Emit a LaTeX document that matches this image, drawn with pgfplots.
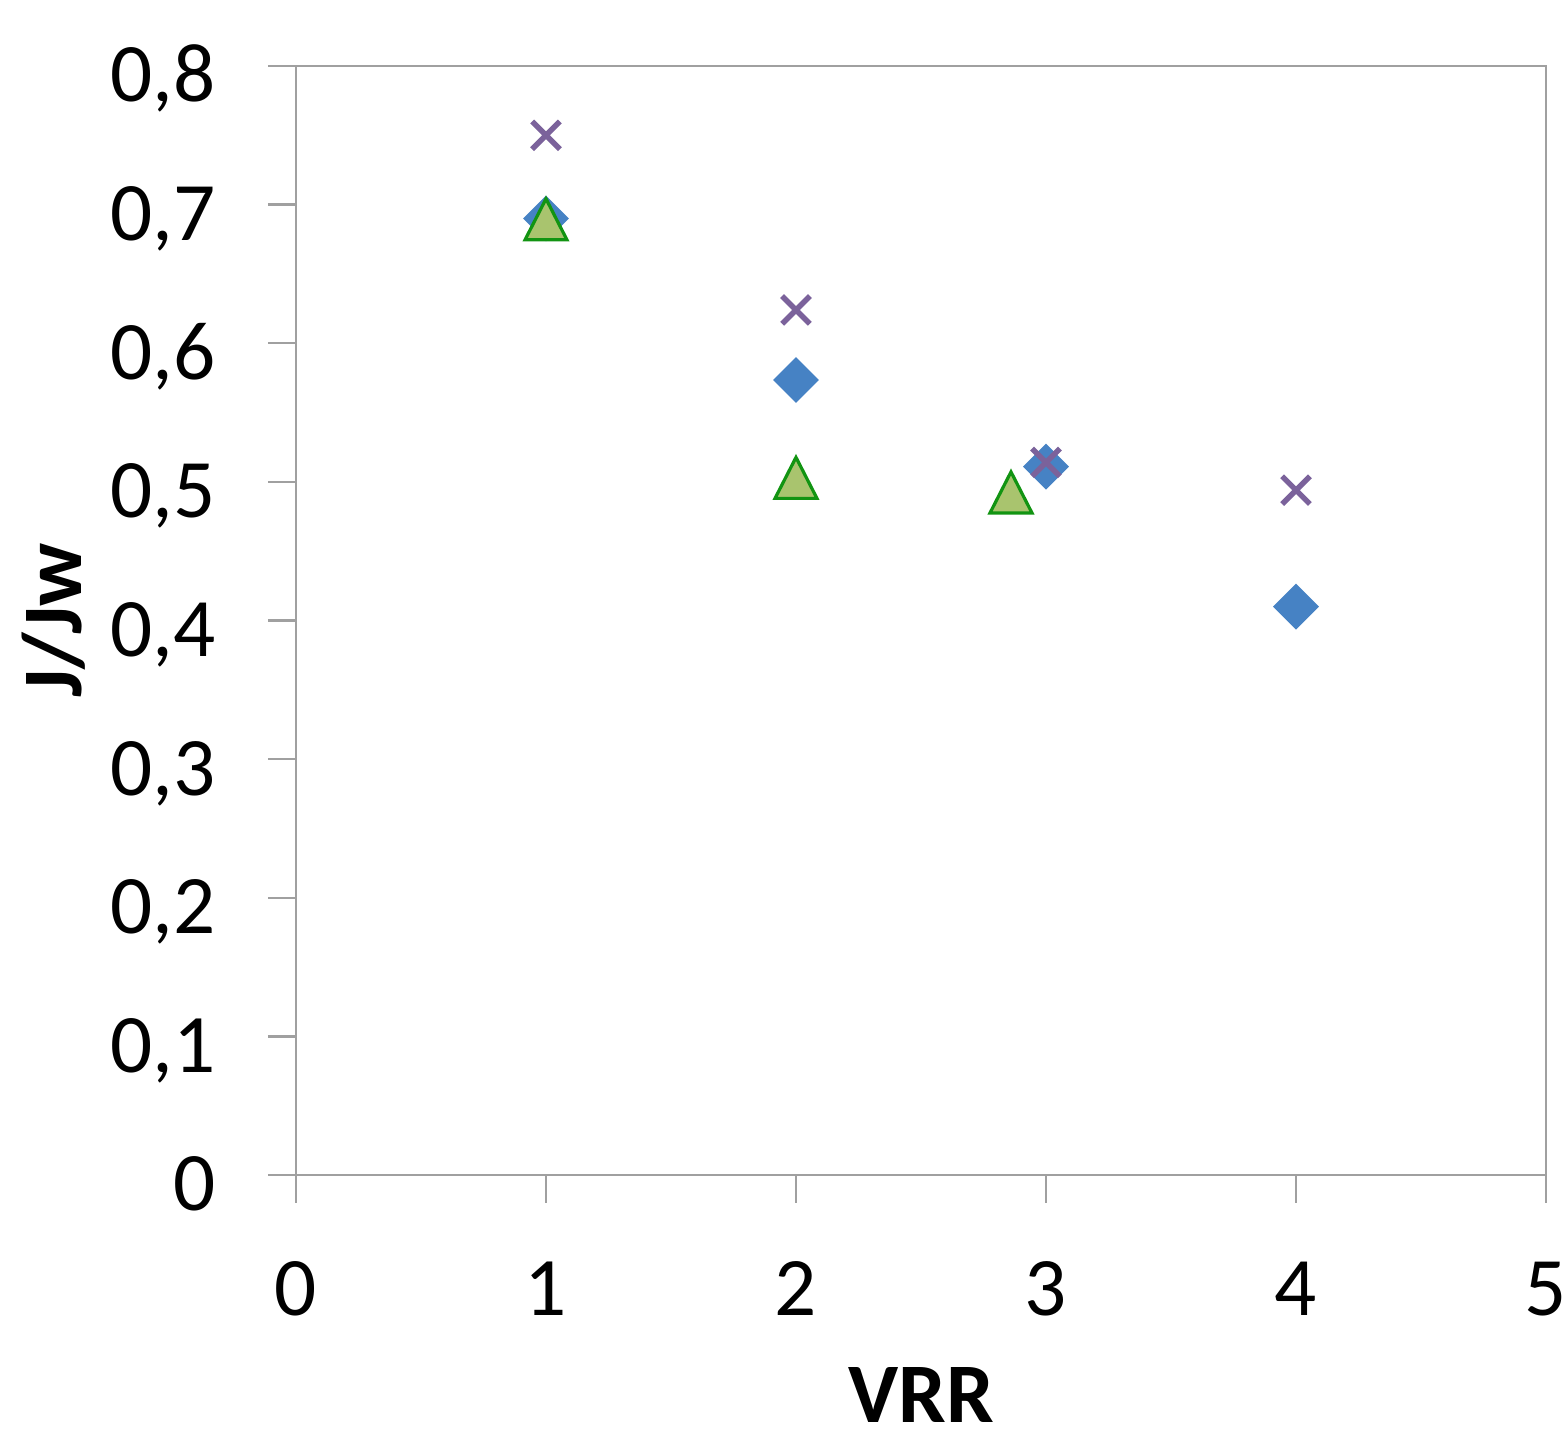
\documentclass[border=0pt]{standalone}
\usepackage{fontspec}
\setmainfont{Carlito}
\usepackage{pgfplots}
\pgfplotsset{compat=1.18}

\definecolor{axisgray}{HTML}{A0A0A0}
\definecolor{diablue}{HTML}{4682C4}
\definecolor{crosspurple}{HTML}{7B629B}
\definecolor{trifill}{HTML}{A9C46E}
\definecolor{triedge}{HTML}{129412}

\begin{document}
\begin{tikzpicture}
\begin{axis}[
    at={(0,0)}, anchor=south west,
    scale only axis,
    width=312.5pt, height=277.25pt,
    xmin=0, xmax=5, ymin=0, ymax=0.8,
    xtick={0,1,2,3,4,5},
    ytick={0,0.1,0.2,0.3,0.4,0.5,0.6,0.7,0.8},
    axis line style={axisgray, line width=0.7pt},
    tick style={axisgray, line width=0.6pt},
    tick align=outside,
    major tick length=7pt,
    xtick pos=bottom, ytick pos=left,
    /pgf/number format/assume math mode=true,
    /pgf/number format/use comma,
    /pgf/number format/fixed,
    /pgf/number format/precision=1,
    ticklabel style={font=\fontsize{20.8}{25}\selectfont, inner sep=0pt},
    yticklabel style={anchor=base east, xshift=-13pt, yshift=-9pt},
    xticklabel style={anchor=base, yshift=-28.25pt},
    xlabel={VRR},
    ylabel={J/Jw},
    every axis x label/.style={at={([yshift=-62pt]axis description cs:0.5,0)},
        anchor=base, inner sep=0pt, font=\fontsize{21.2}{25}\selectfont\bfseries},
    every axis y label/.style={at={([xshift=-53.5pt]axis description cs:0,0.5)},
        rotate=90, anchor=base, inner sep=0pt, font=\fontsize{21.2}{25}\selectfont\bfseries},
]
% blue diamonds
\addplot[only marks, mark=square*, mark size=3.85pt,
    mark options={rotate=45, fill=diablue, draw=diablue}]
    coordinates {(1,0.690) (2,0.5735) (3,0.511) (4,0.410)};
% purple crosses
\addplot[only marks, mark=x, mark size=4.9pt,
    mark options={draw=crosspurple, line width=1.35pt}]
    coordinates {(1,0.750) (2,0.624) (3,0.514) (4,0.494)};
% green triangles
\addplot[only marks, mark=triangle*, mark size=6.05pt,
    mark options={fill=trifill, draw=triedge, line width=0.8pt, yscale=1.13, yshift=-1.7pt}]
    coordinates {(1,0.690) (2,0.5035) (2.86,0.493)};
\end{axis}
\pgfresetboundingbox
\useasboundingbox (-74pt,-63.75pt) rectangle (316.75pt,293.75pt);
\end{tikzpicture}
\end{document}
